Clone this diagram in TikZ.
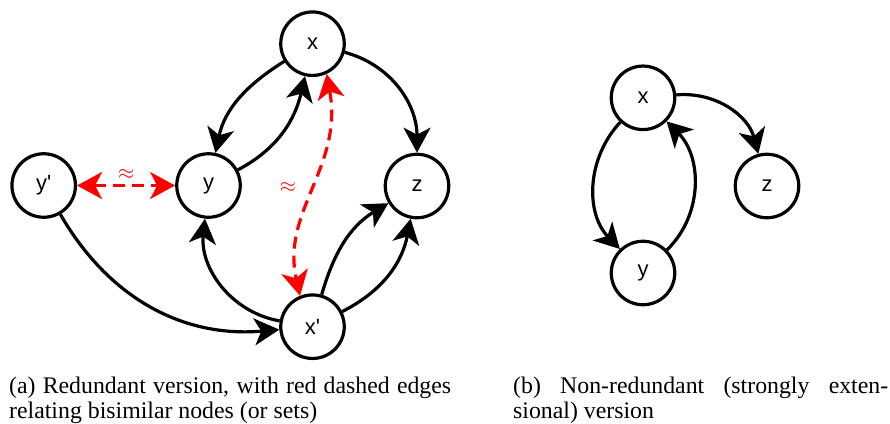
\documentclass[tikz,border=0pt]{standalone}
\usepackage{fontspec}
\setmainfont{Liberation Serif}
\newfontfamily\nodefont{Liberation Sans}
\usetikzlibrary{arrows.meta}
\tikzset{
  vtx/.style={circle, draw, line width=3.2pt, minimum size=63.5pt, inner sep=0pt,
    font=\nodefont\fontsize{22pt}{26pt}\selectfont},
  edge/.style={line width=3.2pt, -{Stealth[length=25pt,width=27pt,inset=7pt]}},
  bis/.style={red, line width=3.2pt, dash pattern=on 12pt off 7pt,
    {Stealth[length=25pt,width=27pt,inset=7pt]}-{Stealth[length=25pt,width=27pt,inset=7pt]}},
  simlabel/.style={red, text=red, font=\fontsize{20pt}{22pt}\selectfont, inner sep=1pt},
  caption/.style={anchor=base west, inner sep=0pt, font=\fontsize{23.8pt}{25pt}\selectfont}
}
\begin{document}
\begin{tikzpicture}[x=1pt, y=-1pt]
\useasboundingbox (0,0) rectangle (890,423);
% panel (a)
\node[vtx] (x)  at (312.5,43.7) {x};
\node[vtx] (y)  at (208.5,185.5) {y};
\node[vtx] (yp) at (43.7,185.5) {y\textquotesingle};
\node[vtx] (z)  at (417,186) {z};
\node[vtx] (xp) at (312.5,326.7) {x\textquotesingle};
\draw[edge] (x)  to[out=212, in=78]  (y);
\draw[edge] (y)  to[out=28,  in=257] (x);
\draw[edge] (x)  to[out=-15, in=90]  (z);
\draw[edge] (xp) to[out=170, in=264] (y);
\draw[edge] (xp) to[out=74,  in=211] (z);
\draw[edge] (xp) to[out=27,  in=259] (z);
\draw[edge] (yp) to[out=-60, in=185] (xp);
\draw[bis] (yp) -- node[simlabel, midway, above=3pt] {$\approx$} (y);
\draw[bis] (x.-65) .. controls +(17,93) and +(-19,-85) .. node[simlabel, midway, left=14pt] {$\approx$} (xp.112);
% panel (b)
\node[vtx] (bx) at (643,97.8) {x};
\node[vtx] (bz) at (767,186) {z};
\node[vtx] (by) at (643,273) {y};
\draw[edge] (bx) to[out=5,   in=105] (bz);
\draw[edge] (bx) to[out=227, in=134] (by);
\draw[edge] (by) to[out=44,  in=-45] (bx);
% captions
\node[caption] (ca1) at (9,393) {\makebox[442pt][s]{(a) Redundant version, with red dashed edges}};
\node[caption] (ca2) at (9,418) {relating bisimilar nodes (or sets)};
\node[caption] (cb1) at (513,393) {\makebox[375pt][s]{(b) Non-redundant (strongly exten-}};
\node[caption] (cb2) at (513,418) {sional) version};
\end{tikzpicture}
\end{document}
